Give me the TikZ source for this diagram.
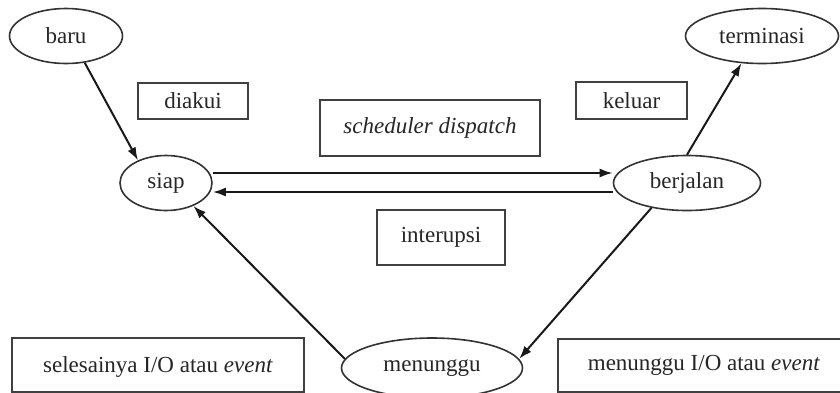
\documentclass[tikz,border=0pt]{standalone}
\usepackage{fontspec}
\setmainfont{Liberation Serif}
\usetikzlibrary{shapes.geometric,arrows.meta}

\begin{document}
\begin{tikzpicture}[x=1pt,y=-1pt,
    every node/.style={font=\fontsize{23}{27}\selectfont, inner sep=0pt, text=black!85},
    statenode/.style={ellipse, draw=black!80, line width=1.6pt},
    labelbox/.style={rectangle, draw=black!75, line width=2pt},
    trans/.style={-{Latex[length=13pt,width=9pt]}, line width=2pt, draw=black!90}]
  \useasboundingbox[fill=white] (0,0) rectangle (840,392);
  % keadaan proses
  \node[statenode, minimum width=113pt, minimum height=55pt] (baru) at (66,36) {baru};
  \node[statenode, minimum width=153pt, minimum height=55pt] (terminasi) at (762,36) {terminasi};
  \node[statenode, minimum width=92pt, minimum height=55pt] (siap) at (166,183) {siap};
  \node[statenode, minimum width=147pt, minimum height=55pt] (berjalan) at (687,183) {berjalan};
  \node[statenode, minimum width=181pt, minimum height=60pt] (menunggu) at (432,368) {menunggu};
  % keterangan transisi
  \node[labelbox, minimum width=110pt, minimum height=36pt] (diakui) at (193,101) {diakui};
  \node[labelbox, minimum width=220pt, minimum height=56pt] (dispatch) at (430,128) {\itshape scheduler dispatch};
  \node[labelbox, minimum width=111pt, minimum height=37pt] (keluar) at (631.5,100.5) {keluar};
  \node[labelbox, minimum width=128pt, minimum height=55pt] (interupsi) at (441,237.5) {interupsi};
  \node[labelbox, minimum width=292pt, minimum height=54pt, text depth=0pt] (selesai) at (158,365) {selesainya I/O atau \textit{event}};
  \node[labelbox, minimum width=292pt, minimum height=53pt] (tunggu) at (704,365.5) {menunggu I/O atau \textit{event}};
  % transisi
  \draw[trans] (baru.-55) -- (siap.141);
  \draw[trans] ([yshift=10pt]siap.east) -- ([yshift=10pt]berjalan.west);
  \draw[trans] ([yshift=-9pt]berjalan.west) -- ([yshift=-9pt]siap.east);
  \draw[trans] (berjalan.north) -- (terminasi.-127);
  \draw[trans] (berjalan.-145) -- (menunggu.6);
  \draw[trans] (menunggu.174) -- (siap.-40);
\end{tikzpicture}
\end{document}
